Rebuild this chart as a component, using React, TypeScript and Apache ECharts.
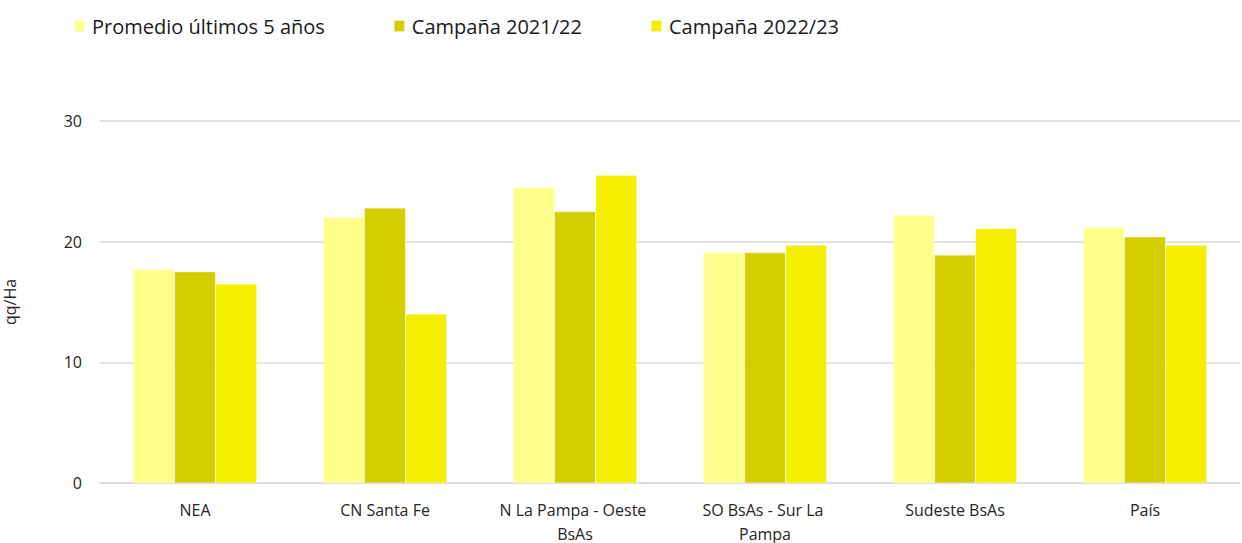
import React, { useEffect, useRef } from "react";
import * as echarts from "echarts";

const categories = ["NEA", "CN Santa Fe", "N La Pampa - Oeste BsAs", "SO BsAs - Sur La Pampa", "Sudeste BsAs", "País"];
const promedio = [17.7, 22.0, 24.5, 19.1, 22.2, 21.2];
const campana2122 = [17.5, 22.8, 22.5, 19.1, 18.9, 20.4];
const campana2223 = [16.5, 14.0, 25.5, 19.7, 21.1, 19.7];
const seriesNames = ["Promedio últimos 5 años", "Campaña 2021/22", "Campaña 2022/23"];
const colors = ["#FFFF8C", "#D4CD00", "#F4EE00"];

export default function App() {
  const ref = useRef<HTMLDivElement>(null);
  useEffect(() => {
    if (!ref.current) return;
    const chart = echarts.init(ref.current, null, { renderer: "svg" });
    const font = "'Open Sans', sans-serif";
    const data = [promedio, campana2122, campana2223];
    chart.setOption({
      animation: false,
      backgroundColor: "#FFFFFF",
      textStyle: { fontFamily: font },
      legend: {
        left: 68,
        top: 11,
        itemWidth: 11,
        itemHeight: 12,
        itemGap: 68,
        icon: "rect",
        textStyle: { fontFamily: font, fontSize: 20, color: "#1a1a1a", padding: [0, 0, 0, 2] },
        data: seriesNames,
      },
      grid: { left: 100, right: 2, top: 121, bottom: 60, containLabel: false, outerBoundsMode: "none" },
      xAxis: {
        type: "category",
        data: categories,
        axisLine: { lineStyle: { color: "#D9D9D9", width: 1.5 } },
        axisTick: { show: false },
        axisLabel: {
          color: "#262626",
          fontSize: 16,
          fontFamily: font,
          margin: 15,
          lineHeight: 24,
          width: 175,
          overflow: "break",
          interval: 0,
        },
      },
      yAxis: {
        type: "value",
        min: 0,
        max: 30,
        interval: 10,
        name: "qq/Ha",
        nameLocation: "middle",
        nameGap: 82,
        nameRotate: 90,
        nameTextStyle: { color: "#262626", fontSize: 16, fontFamily: font },
        axisLine: { show: false },
        axisTick: { show: false },
        splitLine: { lineStyle: { color: "#D9D9D9", width: 1.5 } },
        axisLabel: { color: "#262626", fontSize: 16, fontFamily: font, margin: 18 },
      },
      series: seriesNames.map((name, i) => ({
        name,
        type: "bar",
        data: data[i],
        barGap: "0%",
        barCategoryGap: "35%",
        itemStyle: { color: colors[i], borderColor: "rgba(255,255,255,0.6)", borderWidth: 0.5 },
      })),
    });
    return () => chart.dispose();
  }, []);
  return (
    <div
      ref={ref}
      style={{ position: "absolute", left: 0, top: 0, width: 1242, height: 543 }}
    />
  );
}
